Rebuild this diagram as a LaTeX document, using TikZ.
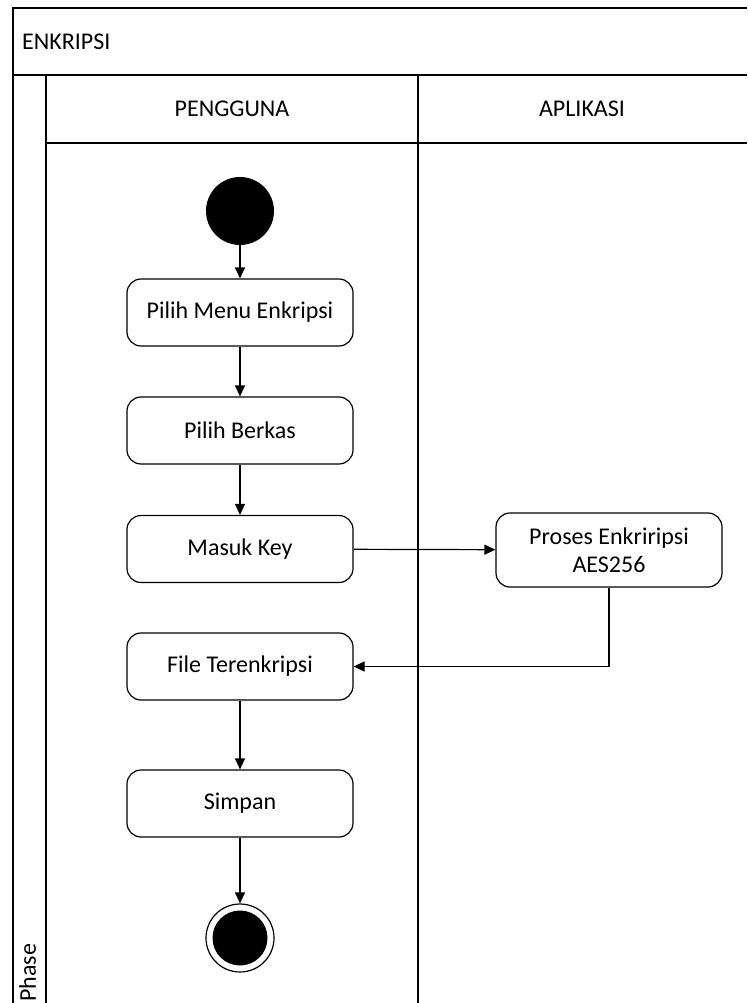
\documentclass[tikz,border=0pt]{standalone}
\usepackage{fontspec}
\setmainfont{Carlito}
\usetikzlibrary{arrows.meta}
\begin{document}
\begin{tikzpicture}[x=1pt,y=-1pt,
  frame/.style={line width=1.4pt},
  act/.style={draw,line width=1.2pt,rounded corners=14pt,minimum width=226pt,minimum height=67pt,
    align=center,font=\fontsize{24}{28}\selectfont,inner sep=0pt},
  lbl/.style={font=\fontsize{24}{28}\selectfont,inner sep=0pt},
  flow/.style={line width=1.2pt,-{Triangle[length=11pt,width=10pt]}}]
\useasboundingbox (0,0) rectangle (747,1003);
% swimlane frame
\draw[frame] (747,8) -- (13,8) -- (13,1003);
\draw[frame] (13,75) -- (747,75);
\draw[frame] (46,75) -- (46,1003);
\draw[frame] (46,143) -- (747,143);
\draw[frame] (418,75) -- (418,1003);
\node[lbl,anchor=west] (title) at (22,42) {ENKRIPSI};
\node[lbl] (lane1) at (232,109) {PENGGUNA};
\node[lbl] (lane2) at (582,109) {APLIKASI};
\node[lbl,rotate=90,anchor=north west] (phase) at (19,1002) {Phase};
% activities
\node[circle,fill=black,minimum size=68pt,inner sep=0pt] (start) at (240,211) {};
\node[act] (menu) at (240,312.5) {Pilih Menu Enkripsi};
\node[act] (berkas) at (240,430.5) {Pilih Berkas};
\node[act] (key) at (240,549) {Masuk Key};
\node[act,minimum height=74pt] (aes) at (609,550) {Proses Enkriripsi\\AES256};
\node[act] (file) at (240,666.5) {File Terenkripsi};
\node[act] (simpan) at (240,803.5) {Simpan};
\node[circle,draw,line width=1.2pt,minimum size=68pt,inner sep=0pt] (end) at (240,938) {};
\node[circle,fill=black,minimum size=55pt,inner sep=0pt] (endin) at (end.center) {};
% flows
\draw[flow] (start) -- (menu);
\draw[flow] (menu) -- (berkas);
\draw[flow] (berkas) -- (key);
\draw[flow] (key) -- (aes);
\draw[flow] (aes.south) |- (file.east);
\draw[flow] (file) -- (simpan);
\draw[flow] (simpan) -- (end);
\end{tikzpicture}
\end{document}
